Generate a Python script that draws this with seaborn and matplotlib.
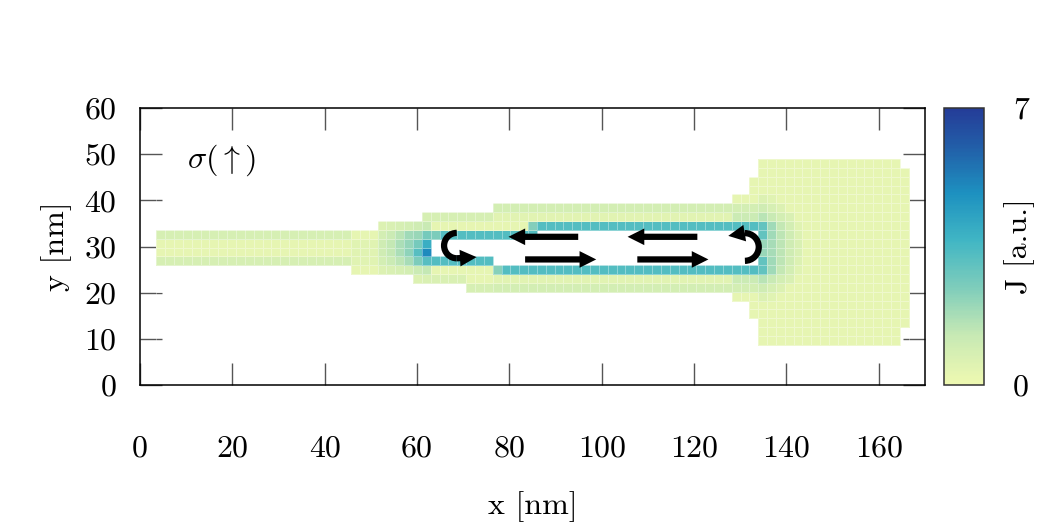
import numpy as np
import matplotlib
matplotlib.use("Agg")
import matplotlib.pyplot as plt
import matplotlib.colors as mcolors
from matplotlib.patches import FancyArrowPatch, ArrowStyle, Arc
import seaborn as sns

# ---------------- data ----------------
N_COLS, N_ROWS = 85, 21          # lattice cells
X0, Y0, A = 3.53, 8.69, 1.917     # lattice origin and cell size [nm]

# device outline: (col_start, col_end, row_start, row_end), end exclusive
shape_segments = [
    (0, 22, 9, 13), (22, 25, 8, 13), (25, 29, 8, 14), (29, 30, 7, 14),
    (30, 35, 7, 15), (35, 38, 6, 15), (38, 65, 6, 16), (65, 67, 5, 17),
    (67, 68, 3, 19), (68, 84, 0, 21), (84, 85, 2, 20),
]
base_J = 0.3

# rectangular regions with a roughly constant current density
region_J = [
    (0, 22, 12, 13, 0.8), (0, 22, 9, 10, 0.8),
    (22, 25, 9, 12, 0.5),
    (30, 38, 14, 15, 0.8), (35, 38, 6, 7, 0.8), (30, 35, 7, 8, 0.7),
    (38, 68, 15, 16, 0.9), (38, 68, 6, 7, 0.9),
    (38, 68, 14, 15, 0.45), (38, 68, 7, 8, 0.45),
    (65, 68, 14, 15, 1.1), (65, 68, 7, 8, 1.1),
    (32, 43, 12, 13, 3.3), (31, 32, 12, 13, 2.5), (42, 43, 13, 14, 2.4),
    (43, 68, 13, 14, 3.3), (31, 38, 9, 10, 3.3), (38, 39, 8, 9, 2.3),
    (39, 68, 8, 9, 3.3),
    (68, 69, 12, 14, 3.0), (68, 69, 8, 10, 3.0), (68, 69, 10, 12, 2.0),
]

# column profiles in the transition zones: (col, first_row, values upward)
column_J = [
    (25, 8, [0.6, 0.9, 1.0, 1.0, 0.9, 0.6]),
    (26, 8, [0.7, 1.1, 1.3, 1.3, 1.1, 0.7]),
    (27, 8, [0.8, 1.4, 1.7, 1.7, 1.5, 0.8]),
    (28, 8, [0.9, 1.8, 2.2, 2.1, 1.9, 0.9]),
    (29, 7, [0.6, 1.1, 2.5, 3.2, 2.6, 2.0, 1.0]),
    (30, 7, [0.7, 1.3, 3.2, 5.0, 3.9, 2.6, 1.2, 0.8]),
    (68, 5, [0.6, 1.0, 1.5]), (68, 14, [1.5, 1.0, 0.6]),
    (69, 5, [0.5, 0.8, 1.2, 1.9, 1.9, 1.8, 1.8, 1.9, 1.9, 1.2, 0.8, 0.5]),
    (70, 6, [0.6, 0.9, 1.3, 1.4, 1.4, 1.4, 1.4, 1.3, 0.9, 0.6]),
    (71, 7, [0.7, 0.9, 1.0, 1.0, 1.0, 1.0, 0.9, 0.7]),
    (72, 8, [0.5, 0.6, 0.7, 0.7, 0.6, 0.5]),
]

# hole in the ring (no current): (col_start, col_end, row_start, row_end)
hole_segments = [(31, 38, 10, 12), (38, 43, 9, 12), (43, 68, 9, 13)]

J_MIN, J_MAX = 0, 7
x_ticks = [0, 20, 40, 60, 80, 100, 120, 140, 160]
y_ticks = [0, 10, 20, 30, 40, 50, 60]
x_range = (0, 170)
y_range = (0, 60)

# current-direction arrows (nm): straight (tail -> tip)
straight_arrows = [
    ((94.9, 32.1), (79.8, 32.1)),
    ((120.7, 32.1), (105.6, 32.1)),
    ((83.4, 27.2), (98.8, 27.2)),
    ((107.7, 27.2), (123.1, 27.2)),
]
# turning arrows: (centre, radius, theta1, theta2, tip) - arc ccw, then head
turn_arrows = [
    ((68.6, 30.2), 2.75, 90, 270, (72.9, 27.7)),
    ((131.0, 29.9), 3.0, -90, 90, (127.4, 32.3)),
]
label_text = r"$\sigma(\uparrow)$"

# ---------------- build field ----------------
J = np.full((N_ROWS, N_COLS), np.nan)
for c0, c1, r0, r1 in shape_segments:
    J[r0:r1, c0:c1] = base_J
for c0, c1, r0, r1, v in region_J:
    J[r0:r1, c0:c1] = v
for c, r0, vals in column_J:
    for k, v in enumerate(vals):
        if not np.isnan(J[r0 + k, c]):
            J[r0 + k, c] = v
for c0, c1, r0, r1 in hole_segments:
    J[r0:r1, c0:c1] = np.nan


def ix(x):
    return (x - X0) / A


def iy(y):
    return (y - Y0) / A


# ---------------- style ----------------
sns.set_style("ticks")
plt.rcParams["font.family"] = ["cmr10", "DejaVu Serif"]
plt.rcParams["mathtext.fontset"] = "cm"
plt.rcParams["axes.formatter.use_mathtext"] = True
plt.rcParams["axes.unicode_minus"] = False
plt.rcParams["text.color"] = "black"
plt.rcParams["axes.labelcolor"] = "black"
plt.rcParams["xtick.color"] = "black"
plt.rcParams["ytick.color"] = "black"

base = plt.get_cmap("YlGnBu")
cmap = mcolors.LinearSegmentedColormap.from_list(
    "ylgnbu_trunc", base(np.linspace(0.12, 0.85, 256)))

fig = plt.figure(figsize=(10.63, 5.32), dpi=100)
ax_rect = [140 / 1063, 1 - 385 / 532, 785 / 1063, 277 / 532]
ax = fig.add_axes(ax_rect)
cax = fig.add_axes([944 / 1063, 1 - 385 / 532, 40 / 1063, 277 / 532])

sns.heatmap(J, ax=ax, cmap=cmap, vmin=J_MIN, vmax=J_MAX, cbar=True,
            cbar_ax=cax, linewidths=0.5, linecolor=(1, 1, 1, 0.35),
            square=False, xticklabels=False, yticklabels=False)

ax.set_xlim(ix(x_range[0]), ix(x_range[1]))
ax.set_ylim(iy(y_range[0]), iy(y_range[1]))
ax.set_aspect("auto")
ax.set_position(ax_rect)

ax.set_xticks([ix(v) for v in x_ticks])
ax.set_xticklabels([str(v) for v in x_ticks])
ax.set_yticks([iy(v) for v in y_ticks])
ax.set_yticklabels([str(v) for v in y_ticks])
ax.tick_params(axis="both", which="major", direction="in", length=16,
               width=1.0, color="#555555", labelcolor="black", labelsize=23,
               top=True, right=True, labeltop=False, labelright=False)
ax.tick_params(axis="x", pad=36)
ax.tick_params(axis="y", pad=17)
for s in ax.spines.values():
    s.set_visible(True)
    s.set_linewidth(1.1)
    s.set_color("black")

ax.set_xlabel("x [nm]", fontsize=23, labelpad=21, color="black")
ax.set_ylabel("y [nm]", fontsize=23, labelpad=9, color="black")

ax.text(0.06, 0.81, label_text, transform=ax.transAxes, fontsize=23,
        ha="left", va="center", color="black")

style = ArrowStyle("simple", head_length=12, head_width=12, tail_width=4.5)
for (x1, y1), (x2, y2) in straight_arrows:
    ax.add_patch(FancyArrowPatch((ix(x1), iy(y1)), (ix(x2), iy(y2)),
                                 arrowstyle=style, mutation_scale=1,
                                 color="black", lw=0, zorder=5,
                                 shrinkA=0, shrinkB=0))
for (cx, cy), r, t1, t2, (tx, ty) in turn_arrows:
    ax.add_patch(Arc((ix(cx), iy(cy)), 2 * r / A, 2 * r / A,
                     theta1=t1, theta2=t2, lw=4.5, color="black",
                     capstyle="butt", zorder=5))
    ex = cx + r * np.cos(np.radians(t2))
    ey = cy + r * np.sin(np.radians(t2))
    ax.add_patch(FancyArrowPatch((ix(ex), iy(ey)), (ix(tx), iy(ty)),
                                 arrowstyle=style, mutation_scale=1,
                                 color="black", lw=0, zorder=5,
                                 shrinkA=0, shrinkB=0))

# colorbar
cb = ax.collections[0].colorbar
cb.set_ticks([J_MIN, J_MAX])
cb.set_ticklabels([str(J_MIN), str(J_MAX)])
cax.tick_params(length=0, labelsize=23, pad=21, labelcolor="black")
cb.outline.set_visible(True)
cb.outline.set_linewidth(1.1)
cb.outline.set_edgecolor("#333333")
cax.text(1.9, 0.5, "J [a.u.]", rotation=90, transform=cax.transAxes,
         ha="center", va="center", fontsize=23, color="black")

fig.savefig("out.png", dpi=100)
